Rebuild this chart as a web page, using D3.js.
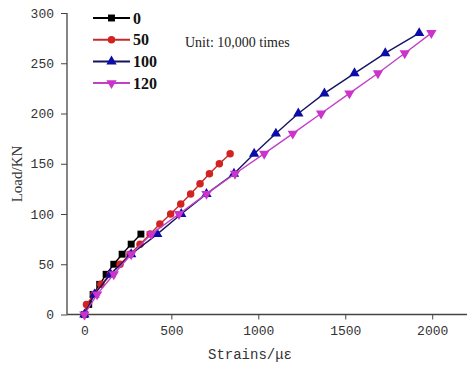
<!DOCTYPE html>
<html>
<head>
<meta charset="utf-8">
<script src="https://cdn.jsdelivr.net/npm/d3@7"></script>
<style>
  body { margin: 0; background: #fff; }
  svg { display: block; }
</style>
</head>
<body>
<div id="chart"></div>
<script>
// load levels (kN) and measured strains for each fatigue count
const series0 = { name: "0", load: [0, 10, 20, 30, 40, 50, 60, 70, 80],
  strain: [0, 25, 50, 88, 125, 169, 217, 269, 325] };
const series50 = { name: "50", load: [0, 10, 20, 30, 40, 50, 60, 70, 80, 90, 100, 110, 120, 130, 140, 150, 160],
  strain: [0, 12, 55, 95, 150, 205, 262, 320, 378, 434, 496, 554, 611, 665, 719, 776, 838] };
const series100 = { name: "100", load: [0, 20, 40, 60, 80, 100, 120, 140, 160, 180, 200, 220, 240, 260, 280],
  strain: [0, 58, 150, 269, 419, 557, 702, 860, 976, 1101, 1230, 1380, 1553, 1730, 1925] };
const series120 = { name: "120", load: [0, 20, 40, 60, 80, 100, 120, 140, 160, 180, 200, 220, 240, 260, 280],
  strain: [0, 73, 169, 269, 385, 544, 702, 866, 1034, 1198, 1361, 1524, 1688, 1842, 1995] };

const xTicks = [0, 500, 1000, 1500, 2000];
const yTicks = [0, 50, 100, 150, 200, 250, 300];

const styles = [
  { s: series0, color: "#000000", line: "#000000", shape: d3.symbolSquare, size: 48, rot: 0 },
  { s: series50, color: "#d22222", line: "#c42a2a", shape: d3.symbolCircle, size: 44, rot: 0 },
  { s: series100, color: "#0c0ca8", line: "#141460", shape: d3.symbolTriangle, size: 46, rot: 0 },
  { s: series120, color: "#cc33cc", line: "#c040c8", shape: d3.symbolTriangle, size: 46, rot: 180 },
];

const W = 467, H = 369;
const margin = { left: 67, right: 467, top: 13, bottom: 314.5 };

const svg = d3.select("#chart").append("svg")
  .attr("width", W).attr("height", H);

const x = d3.scaleLinear().domain([-100, 2200]).range([margin.left, margin.right]);
const y = d3.scaleLinear().domain([0, 300]).range([margin.bottom, margin.top]);

// x axis, major + minor
const gx = svg.append("g").attr("transform", `translate(0,${margin.bottom})`);
gx.call(d3.axisBottom(x).tickValues(d3.range(250, 2250, 500)).tickSize(3).tickFormat(""));
gx.call(d3.axisBottom(x).tickValues(xTicks).tickSize(5).tickPadding(6).tickFormat(d3.format("d")));
gx.selectAll(".domain").attr("d", `M${margin.left},0H${margin.right}`);

const gy = svg.append("g").attr("transform", `translate(${margin.left},0)`);
gy.call(d3.axisLeft(y).tickValues(d3.range(25, 300, 50)).tickSize(3).tickFormat(""));
gy.call(d3.axisLeft(y).tickValues(yTicks).tickSize(6).tickPadding(7).tickFormat(d3.format("d")));
gy.selectAll(".domain").attr("d", `M0,${margin.top}V${margin.bottom}`);

svg.selectAll(".domain").attr("stroke", "#444").attr("stroke-width", 1.3);
svg.selectAll(".tick line").attr("stroke", "#444").attr("stroke-width", 1);
svg.selectAll(".tick text")
  .attr("fill", "#333")
  .style("font-family", "'Liberation Mono', monospace")
  .style("font-size", "13px");

// axis titles
svg.append("text")
  .attr("x", 250).attr("y", 359)
  .attr("text-anchor", "middle")
  .style("font-family", "'Liberation Mono', monospace")
  .style("font-size", "14px")
  .attr("fill", "#333")
  .text("Strains/με");

svg.append("text")
  .attr("transform", "translate(22,174) rotate(-90)")
  .attr("text-anchor", "middle")
  .style("font-family", "'Liberation Serif', serif")
  .style("font-size", "15px")
  .attr("fill", "#333")
  .text("Load/KN");

// series
const line = d3.line().x(d => x(d[0])).y(d => y(d[1]));
styles.forEach(st => {
  const pts = st.s.strain.map((v, i) => [v, st.s.load[i]]);
  const g = svg.append("g");
  g.append("path").datum(pts)
    .attr("fill", "none").attr("stroke", st.line).attr("stroke-width", 1.4)
    .attr("d", line);
  g.selectAll("path.m").data(pts).enter().append("path")
    .attr("class", "m")
    .attr("d", d3.symbol().type(st.shape).size(st.size))
    .attr("transform", d => `translate(${x(d[0])},${y(d[1])}) rotate(${st.rot})`)
    .attr("fill", st.color);
});

// legend
const leg = svg.append("g");
styles.forEach((st, i) => {
  const yy = 18 + i * 21.7;
  leg.append("line")
    .attr("x1", 93).attr("x2", 130).attr("y1", yy).attr("y2", yy)
    .attr("stroke", st.line).attr("stroke-width", 2);
  leg.append("path")
    .attr("d", d3.symbol().type(st.shape).size(st.size))
    .attr("transform", `translate(111.5,${yy}) rotate(${st.rot})`)
    .attr("fill", st.color);
  leg.append("text")
    .attr("x", 133).attr("y", yy + 5.5)
    .style("font-family", "'Liberation Serif', serif")
    .style("font-size", "16px")
    .style("font-weight", "bold")
    .attr("fill", "#111")
    .text(st.s.name);
});

svg.append("text")
  .attr("x", 185).attr("y", 47)
  .style("font-family", "'Liberation Serif', serif")
  .style("font-size", "14px")
  .attr("fill", "#222")
  .text("Unit: 10,000 times");
</script>
</body>
</html>
